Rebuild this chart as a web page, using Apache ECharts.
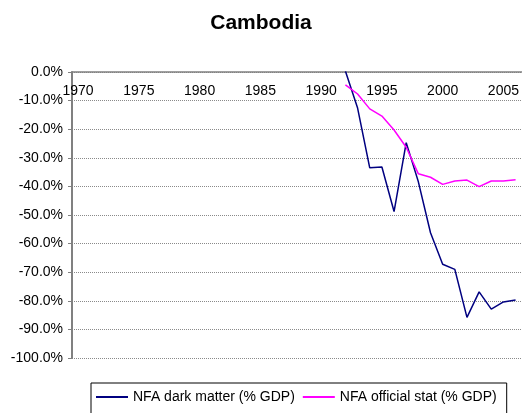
<!DOCTYPE html>
<html>
<head>
<meta charset="utf-8">
<script src="https://cdn.jsdelivr.net/npm/echarts@6/dist/echarts.min.js"></script>
<style>
  html, body { margin: 0; padding: 0; background: #fff; }
  #chart { width: 522px; height: 413px; }
</style>
</head>
<body>
<div id="chart"></div>
<script>
  // years on the category axis
  var years = []
  for (var y = 1970; y <= 2006; y++) years.push(String(y))

  // values in % of GDP (1992 - 2006)
  var darkMatter = [0.3, -12.6, -33.5, -33.2, -48.8, -24.7, -38.4, -56.2, -67.2, -69.0, -85.8, -76.9, -82.9, -80.4, -79.7]
  var officialStat = [-4.5, -7.7, -12.9, -15.4, -20.3, -26.3, -35.6, -36.8, -39.3, -38.1, -37.8, -40.1, -38.1, -38.1, -37.7]
  var firstYear = 1992

  function pad(vals) {
    var out = []
    for (var i = 0; i < years.length; i++) {
      var k = Number(years[i]) - firstYear
      out.push(k >= 0 && k < vals.length ? vals[k] : '-')
    }
    return out
  }

  var chart = echarts.init(document.getElementById('chart'))
  chart.setOption({
    animation: false,
    textStyle: { fontFamily: 'Liberation Sans, Arial, sans-serif' },
    title: {
      text: 'Cambodia',
      left: 'center',
      top: 8,
      textStyle: { fontSize: 21, fontWeight: 'bold', color: '#000' }
    },
    grid: { left: 72, top: 72, right: 0, bottom: 55 },
    legend: {
      top: 383,
      left: 91,
      padding: [7, 10, 12, 5],
      borderColor: '#000',
      borderWidth: 1,
      itemWidth: 32,
      itemHeight: 2,
      itemGap: 8,
      icon: 'rect',
      textStyle: { fontSize: 14, color: '#000' },
      data: ['NFA dark matter (% GDP)', 'NFA official stat (% GDP)']
    },
    xAxis: {
      type: 'category',
      data: years,
      position: 'top',
      axisLine: { onZero: false, lineStyle: { color: '#808080', width: 1.5 } },
      axisTick: { interval: 0, length: 4, inside: true, lineStyle: { color: '#808080' } },
      axisLabel: { interval: 4, fontSize: 14, color: '#000', inside: true, margin: 12 },
      splitLine: { show: false }
    },
    yAxis: {
      type: 'value',
      min: -100,
      max: 0,
      interval: 10,
      axisLine: { show: true, lineStyle: { color: '#808080', width: 2 } },
      axisTick: { show: true, length: 4, lineStyle: { color: '#808080' } },
      axisLabel: {
        fontSize: 14,
        color: '#000',
        margin: 9,
        formatter: function (v) { return v.toFixed(1) + '%' }
      },
      splitLine: { lineStyle: { color: '#8a8a8a', type: [1, 1], width: 1 } }
    },
    series: [
      {
        name: 'NFA dark matter (% GDP)',
        type: 'line',
        data: pad(darkMatter),
        showSymbol: false,
        color: '#000080',
        lineStyle: { width: 1.5 }
      },
      {
        name: 'NFA official stat (% GDP)',
        type: 'line',
        data: pad(officialStat),
        showSymbol: false,
        color: '#ff00ff',
        lineStyle: { width: 1.5 }
      }
    ]
  })
</script>
</body>
</html>
